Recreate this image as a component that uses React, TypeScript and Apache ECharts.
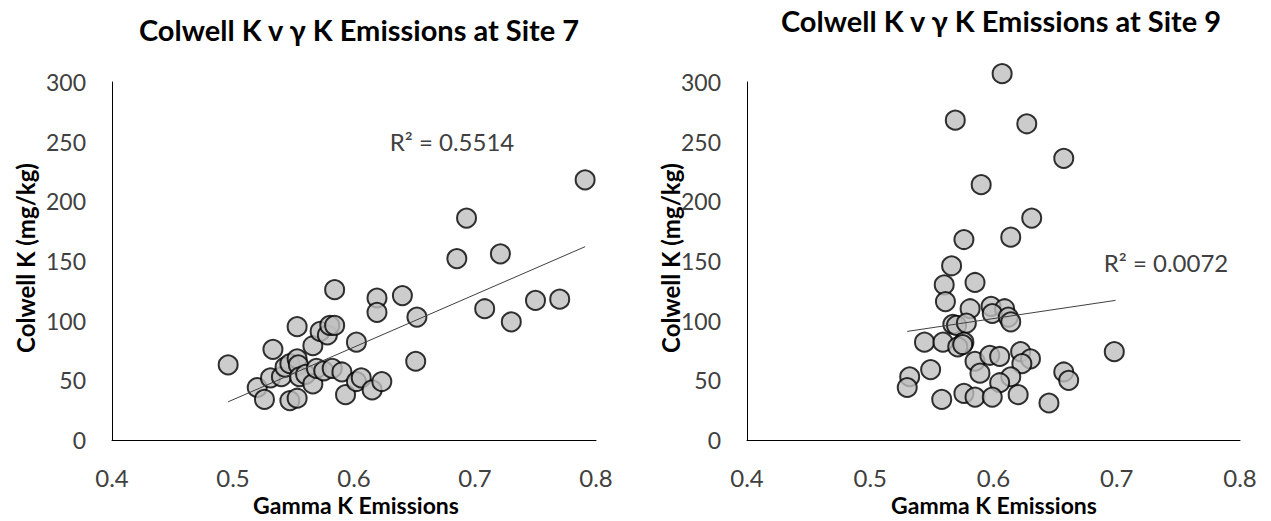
import React, { useEffect, useRef } from "react";
import * as echarts from "echarts";

// ---- Data ----
const site7Gamma = [
  0.496, 0.52, 0.526, 0.531, 0.533, 0.54, 0.543, 0.547, 0.547, 0.553, 0.553, 0.553, 0.554, 0.555,
  0.56, 0.566, 0.566, 0.569, 0.572, 0.575, 0.578, 0.58, 0.584, 0.584, 0.582, 0.59, 0.593, 0.602,
  0.602, 0.606, 0.615, 0.619, 0.619, 0.623, 0.64, 0.651, 0.652, 0.685, 0.693, 0.708, 0.721, 0.73,
  0.75, 0.77, 0.791,
];
const site7Colwell = [
  63, 44, 34, 52, 76, 53, 61, 64, 33, 35, 95, 68, 63, 53,
  55, 47, 79, 60, 91, 58, 88, 96, 96, 126, 60, 57, 38, 82,
  49, 52, 42, 119, 107, 49, 121, 66, 103, 152, 186, 110, 156, 99,
  117, 118, 218,
];
const site7TrendX = [0.496, 0.791];
const site7TrendY = [32, 162];
const site7R2 = "R² = 0.5514";

const site9Gamma = [
  0.607, 0.569, 0.627, 0.657, 0.59, 0.631, 0.576, 0.614, 0.566, 0.585, 0.56, 0.561, 0.581, 0.598,
  0.609, 0.599, 0.612, 0.614, 0.567, 0.57, 0.578, 0.544, 0.559, 0.576, 0.571, 0.575, 0.585, 0.597,
  0.605, 0.622, 0.63, 0.623, 0.549, 0.589, 0.614, 0.605, 0.532, 0.53, 0.558, 0.576, 0.585, 0.599,
  0.62, 0.645, 0.657, 0.661, 0.698,
];
const site9Colwell = [
  307, 268, 265, 236, 214, 186, 168, 170, 146, 132, 130, 116, 110, 112,
  110, 106, 103, 99, 97, 96, 98, 82, 82, 82, 78, 80, 66, 71,
  70, 74, 68, 64, 59, 56, 53, 48, 53, 44, 34, 39, 36, 36,
  38, 31, 57, 50, 74,
];
const site9TrendX = [0.53, 0.699];
const site9TrendY = [91, 117];
const site9R2 = "R² = 0.0072";

const xMin = 0.4;
const xMax = 0.8;
const xStep = 0.1;
const yMin = 0;
const yMax = 300;
const yStep = 50;

const titles = ["Colwell K v γ K Emissions at Site 7", "Colwell K v γ K Emissions at Site 9"];
const xName = "Gamma K Emissions";
const yName = "Colwell K (mg/kg)";

const FONT = 'Lato, "Open Sans", "Noto Sans", sans-serif';

function pairs(xs: number[], ys: number[]) {
  return xs.map((x, i) => [x, ys[i]]);
}

export default function App() {
  const ref = useRef<HTMLDivElement>(null);

  useEffect(() => {
    if (!ref.current) return;
    const chart = echarts.init(ref.current, undefined, { renderer: "svg" });

    const grids = [
      { left: 112, top: 82, width: 484, height: 358 },
      { left: 747, top: 82, width: 493, height: 358 },
    ];

    const axisCommonX = (gi: number) => ({
      type: "value",
      gridIndex: gi,
      min: xMin,
      max: xMax,
      interval: xStep,
      axisLine: { show: true, onZero: false, lineStyle: { color: "#000", width: 1 } },
      axisTick: { show: false },
      splitLine: { show: false },
      axisLabel: {
        fontFamily: FONT,
        fontSize: 24,
        color: "#404040",
        margin: 25,
        formatter: (v: number) => v.toFixed(1),
      },
    });
    const axisCommonY = (gi: number) => ({
      type: "value",
      gridIndex: gi,
      min: yMin,
      max: yMax,
      interval: yStep,
      axisLine: { show: true, onZero: false, lineStyle: { color: "#000", width: 1 } },
      axisTick: { show: false },
      splitLine: { show: false },
      axisLabel: {
        fontFamily: FONT,
        fontSize: 23,
        color: "#404040",
        margin: 26,
      },
    });

    const scatterStyle = {
      type: "scatter",
      symbol: "circle",
      symbolSize: 19,
      clip: false,
      itemStyle: { color: "#bfbfbf", borderColor: "#000", borderWidth: 2 },
      z: 2,
    };
    const trendStyle = {
      type: "line",
      showSymbol: false,
      symbol: "none",
      clip: false,
      lineStyle: { color: "#404040", width: 1 },
      z: 3,
    };

    const txt = (text: string, x: number, y: number, size: number, bold: boolean, rot = 0, color = "#000") => ({
      type: "text",
      x,
      y,
      rotation: rot,
      style: {
        text,
        fill: color,
        font: `${bold ? "bold " : ""}${size}px ${FONT}`,
        align: "center",
        verticalAlign: "middle",
      },
    });

    chart.setOption({
      animation: false,
      backgroundColor: "#fff",
      grid: grids,
      xAxis: [axisCommonX(0), axisCommonX(1)],
      yAxis: [axisCommonY(0), axisCommonY(1)],
      series: [
        { ...scatterStyle, xAxisIndex: 0, yAxisIndex: 0, data: pairs(site7Gamma, site7Colwell) },
        { ...trendStyle, xAxisIndex: 0, yAxisIndex: 0, data: pairs(site7TrendX, site7TrendY) },
        { ...scatterStyle, xAxisIndex: 1, yAxisIndex: 1, data: pairs(site9Gamma, site9Colwell) },
        { ...trendStyle, xAxisIndex: 1, yAxisIndex: 1, data: pairs(site9TrendX, site9TrendY) },
      ],
      graphic: [
        txt(titles[0], 359, 29, 29, true),
        txt(titles[1], 1001, 20, 29, true),
        txt(xName, 356, 505, 23, true),
        txt(xName, 994, 505, 23, true),
        txt(yName, 25, 258, 24, true, Math.PI / 2),
        txt(yName, 670, 258, 24, true, Math.PI / 2),
        txt(site7R2, 452, 141, 24, false, 0, "#404040"),
        txt(site9R2, 1166, 262, 24, false, 0, "#404040"),
      ],
    });

    return () => chart.dispose();
  }, []);

  return (
    <div
      ref={ref}
      style={{ position: "fixed", left: 0, top: 0, width: 1271, height: 521, background: "#fff" }}
    />
  );
}
